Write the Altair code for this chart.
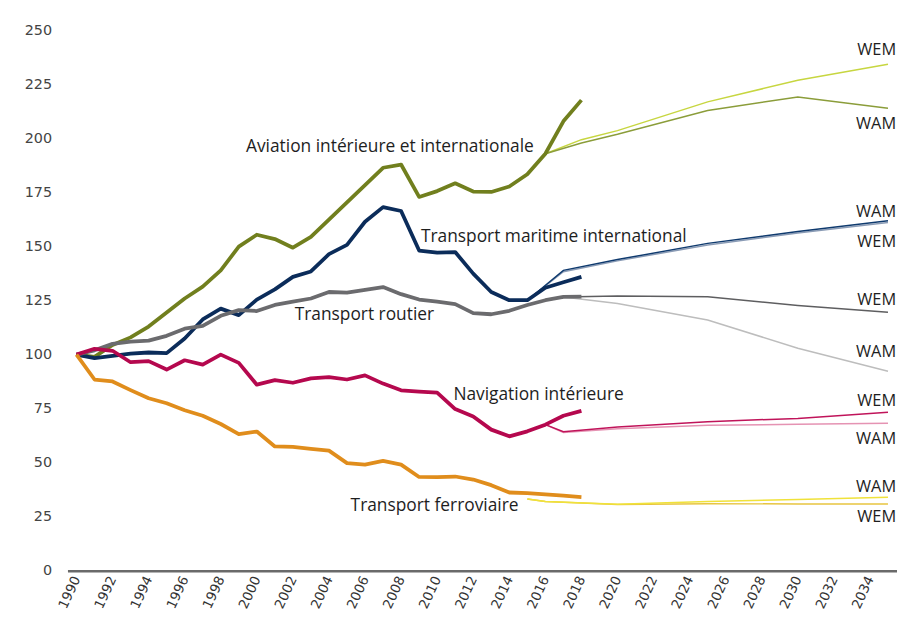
import altair as alt
import pandas as pd

# ---------------- data ----------------
years_hist = list(range(1990, 2019))
aviation = [100, 99, 104.5, 108, 113, 119.5, 126, 131.5, 139, 150, 155.5, 153.5, 149.5, 154.5,
            162.5, 170.5, 178.5, 186.5, 188, 173, 175.7, 179.3, 175.5, 175.3, 177.8, 183.5,
            193, 208, 217.8]
maritime = [100, 98.4, 99.4, 100.5, 101, 100.7, 107.5, 116.3, 121.3, 118.3, 125.5, 130.2,
            136, 138.5, 146.5, 150.8, 161.5, 168.3, 166.5, 148.2, 147.2, 147.5, 137.5, 129,
            125.2, 125.2, 131, 133.5, 136]
road = [100, 102, 105, 106, 106.5, 108.7, 112, 113.3, 118, 120.6, 120.2, 123, 124.5, 126,
        129, 128.7, 130, 131.3, 128, 125.5, 124.5, 123.4, 119.2, 118.7, 120.3, 123, 125.2,
        126.7, 126.9]
navigation = [100, 102.7, 101.8, 96.5, 97, 93.1, 97.4, 95.4, 100, 96.2, 86.1, 88.2, 87, 89,
              89.6, 88.5, 90.4, 86.6, 83.5, 82.9, 82.4, 74.8, 71.4, 65.3, 62.2, 64.5, 67.6,
              71.7, 74]
rail = [100, 88.5, 87.6, 83.6, 79.8, 77.5, 74.3, 71.7, 67.9, 63.2, 64.4, 57.5, 57.3, 56.4,
        55.6, 49.8, 49.1, 50.8, 49.1, 43.4, 43.3, 43.6, 42.2, 39.6, 36.2, 35.9, 35.3, 34.7,
        34.1]

# projections
aviation_proj_years = [2016, 2018, 2020, 2025, 2030, 2035]
aviation_wem = [193, 199.5, 203.7, 217, 227, 234.4]
aviation_wam = [193, 198, 202, 213, 219.3, 214]

maritime_proj_years = [2015, 2017, 2020, 2025, 2030, 2035]
maritime_wam = [125.2, 139, 144, 151.5, 157, 162]
maritime_wem = [125.2, 138.4, 143.4, 150.8, 156.3, 161.2]

road_proj_years = [2017, 2020, 2025, 2030, 2035]
road_wem = [126.7, 127.2, 126.8, 122.8, 119.6]
road_wam = [126.7, 123.7, 116, 103, 92.3]

nav_proj_years = [2016, 2017, 2020, 2025, 2030, 2035]
nav_wem = [67.6, 64.3, 66.5, 69, 70.5, 73.3]
nav_wam = [67.6, 64, 65.7, 67.3, 67.8, 68.2]

rail_proj_years = [2015, 2016, 2020, 2025, 2030, 2035]
rail_wam = [33.2, 32, 30.8, 32, 33, 34]
rail_wem = [33.2, 32, 30.7, 31, 30.9, 30.9]

# labels on the lines
label_text = ["Aviation intérieure et internationale", "Transport maritime international",
              "Transport routier", "Navigation intérieure", "Transport ferroviaire"]
label_year = [1999.4, 2009.1, 2002.1, 2010.9, 2005.2]
label_value = [196, 154.6, 118.3, 81.2, 29.8]

scen_text = ["WEM", "WAM", "WAM", "WEM", "WEM", "WAM", "WEM", "WAM", "WAM", "WEM"]
scen_value = [240.8, 206.9, 166.1, 152.3, 125.2, 101.4, 78.4, 61, 38.5, 24.8]
scen_year = [2035.45] * len(scen_text)

x_ticks = list(range(1990, 2035, 2))
y_ticks = [0, 25, 50, 75, 100, 125, 150, 175, 200, 225, 250]

# ---------------- tables ----------------
hist_names = ["Aviation", "Maritime", "Routier", "Navigation", "Ferroviaire"]
hist_vals = [aviation, maritime, road, navigation, rail]
hist_colors = ["#717f1e", "#0b2c5a", "#6b6b6e", "#b5084e", "#e08d1c"]
rows = []
for n, vals in zip(hist_names, hist_vals):
    for y, v in zip(years_hist, vals):
        rows.append({"serie": n, "year": y, "value": v})
hist_df = pd.DataFrame(rows)

proj_specs = [
    ("Aviation WEM", aviation_proj_years, aviation_wem, "#c7d640"),
    ("Aviation WAM", aviation_proj_years, aviation_wam, "#8b9d3a"),
    ("Maritime WEM", maritime_proj_years, maritime_wem, "#8a9bb5"),
    ("Maritime WAM", maritime_proj_years, maritime_wam, "#0f3a6e"),
    ("Routier WEM", road_proj_years, road_wem, "#5e5e60"),
    ("Routier WAM", road_proj_years, road_wam, "#bdbdbd"),
    ("Navigation WAM", nav_proj_years, nav_wam, "#e593b3"),
    ("Navigation WEM", nav_proj_years, nav_wem, "#c0145a"),
    ("Ferroviaire WEM", rail_proj_years, rail_wem, "#e8c540"),
    ("Ferroviaire WAM", rail_proj_years, rail_wam, "#f0e23a"),
]
rows = []
for n, ys, vs, _ in proj_specs:
    for y, v in zip(ys, vs):
        rows.append({"serie": n, "year": y, "value": v})
proj_df = pd.DataFrame(rows)

lab_df = pd.DataFrame({"t": label_text, "year": label_year, "value": label_value})
scen_df = pd.DataFrame({"t": scen_text, "year": scen_year, "value": scen_value})

# ---------------- chart ----------------
x_scale = alt.Scale(domain=[1989.5, 2035.5], nice=False, zero=False)
y_scale = alt.Scale(domain=[0, 250], nice=False)

x_axis = alt.Axis(values=x_ticks, format="d", labelAngle=-65, labelAlign="right",
                  labelBaseline="middle", labelFont="DejaVu Sans", labelFontSize=13.5,
                  labelColor="#333", ticks=False, grid=False, domain=True,
                  domainColor="#6a6a6a", domainWidth=2.5, labelPadding=6, title=None,
                  labelOverlap=False, labelFlush=False)
y_axis = alt.Axis(values=y_ticks, labelFont="DejaVu Sans", labelFontSize=14.5,
                  labelColor="#444", ticks=False, grid=False, domain=False,
                  labelPadding=16, title=None)

base_x = alt.X("year:Q", scale=x_scale, axis=x_axis)
base_y = alt.Y("value:Q", scale=y_scale, axis=y_axis)

proj = alt.Chart(proj_df).mark_line(strokeWidth=1.5).encode(
    x=base_x, y=base_y,
    color=alt.Color("serie:N", scale=alt.Scale(domain=[p[0] for p in proj_specs],
                                               range=[p[3] for p in proj_specs]),
                    legend=None),
)

hist = alt.Chart(hist_df).mark_line(strokeWidth=3.8, strokeJoin="round").encode(
    x=base_x, y=base_y,
    stroke=alt.Stroke("serie:N", scale=alt.Scale(domain=hist_names, range=hist_colors),
                      legend=None),
)

labels = alt.Chart(lab_df).mark_text(align="left", baseline="middle", font="Open Sans",
                                     fontSize=17.5, color="#1e1e1e").encode(
    x=base_x, y=base_y, text="t:N")

scen = alt.Chart(scen_df).mark_text(align="right", baseline="middle", font="Open Sans",
                                    fontSize=16.5, color="#1e1e1e").encode(
    x=base_x, y=base_y, text="t:N")

chart = alt.layer(proj, hist, labels, scen).resolve_scale(
    color="independent", stroke="independent"
).properties(
    width=837, height=545,
    autosize="none",
    padding={"left": 60, "top": 20, "right": 0, "bottom": 52},
    background="white",
).configure_view(stroke=None)

chart.save("out.html", embed_options={"renderer": "svg", "actions": False})
